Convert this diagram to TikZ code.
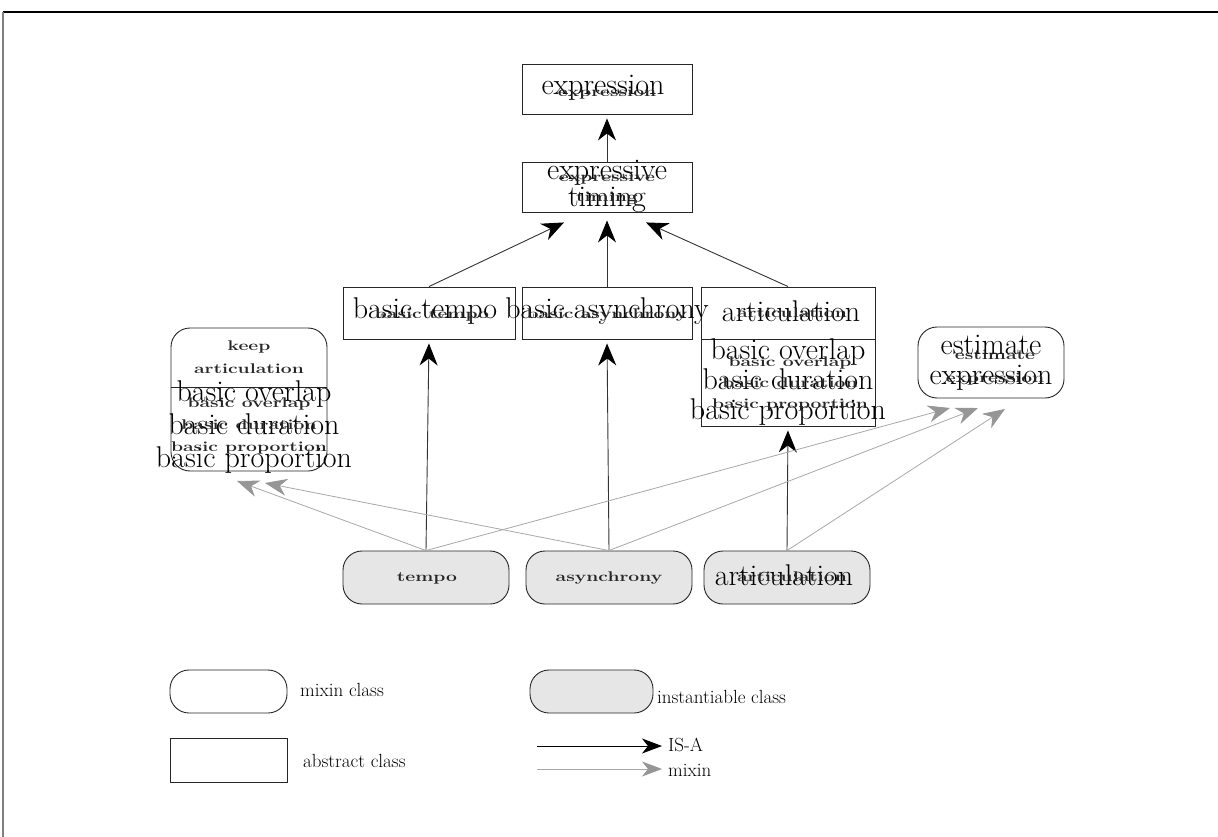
\documentclass[tikz,border=0pt]{standalone}
\usetikzlibrary{arrows.meta,calc}
\definecolor{instfill}{HTML}{E6E6E6}
\definecolor{mixgray}{HTML}{A8A8A8}
\definecolor{mixhead}{HTML}{969696}
% wide, low-resolution caption text set inside the boxes
\newcommand{\pixtxt}[1]{\scalebox{1.38}[1]{\begin{tabular}{@{}c@{}}#1\end{tabular}}}
\begin{document}
\begin{tikzpicture}[x=1pt,y=-1pt,
  frame/.style={line width=1.2pt},
  absbox/.style={draw=black!85, line width=0.9pt, inner sep=0pt},
  mixbox/.style={draw=black!85, line width=0.9pt, inner sep=0pt, rounded corners=19pt},
  instbox/.style={mixbox, fill=instfill},
  bigtxt/.style={inner sep=0pt, align=center, font=\fontsize{30}{30}\selectfont},
  smalltxt/.style={inner sep=0pt, text=black!85, font=\fontsize{14}{21}\selectfont\bfseries},
  legtxt/.style={inner sep=0pt, anchor=west, font=\fontsize{19}{20}\selectfont},
  isa/.style={draw=black!80, line width=0.9pt, -{Stealth[length=22pt,width=18pt,inset=7pt,color=black,fill=black]}},
  mixin/.style={draw=mixgray, line width=0.8pt, -{Stealth[length=22pt,width=17pt,inset=7pt,color=mixhead,fill=mixhead]}}
]
\useasboundingbox (0,0) rectangle (1218,837);
\fill[white] (0,0) rectangle (1218,837);

% page frame
\draw[frame, black] (3,12) -- (1218,12);
\draw[frame, black!50] (3,12) -- (3,837);

% ---- class boxes ----
\node[absbox, minimum width=170pt, minimum height=50pt] (expr) at (607,89) {};
\node[absbox, minimum width=170pt, minimum height=50pt] (timing) at (607,187) {};
\node[absbox, minimum width=172pt, minimum height=52pt] (btempo) at (429,313) {};
\node[absbox, minimum width=170pt, minimum height=52pt] (basync) at (607,313) {};
\node[absbox, minimum width=174pt, minimum height=52pt] (artic) at (788,313) {};
\node[absbox, minimum width=174pt, minimum height=87pt] (articlist) at (788,382.5) {};

\node[mixbox, minimum width=156pt, minimum height=143pt] (keep) at (249,399.5) {};
\draw[black!85, line width=0.9pt] (keep.west |- 0,387) -- (keep.east |- 0,387);
\node[mixbox, minimum width=146pt, minimum height=71pt] (estimate) at (991,362.5) {};

\node[instbox, minimum width=166pt, minimum height=53pt] (tempo) at (426,577.5) {};
\node[instbox, minimum width=166pt, minimum height=53pt] (async) at (609,577.5) {};
\node[instbox, minimum width=166pt, minimum height=53pt] (iartic) at (787,577.5) {};

% ---- large captions ----
\node[bigtxt] (exprL) at (603,88) {expression};
\node[bigtxt, font=\fontsize{30}{27}\selectfont] (timingL) at (607,186) {expressive\\timing};
\node[bigtxt] (btempoL) at (425,311) {basic tempo};
\node[bigtxt] (basyncL) at (607,311) {basic asynchrony};
\node[bigtxt] (articL) at (791,311) {articulation};
\node[bigtxt] (articlistL) at (788,382) {basic overlap\\basic duration\\basic proportion};
\node[bigtxt, font=\fontsize{30}{33}\selectfont] (keepL) at (254,427) {basic overlap\\basic duration\\basic proportion};
\node[bigtxt] (estimateL) at (991,363) {estimate\\expression};
\node[bigtxt] (iarticL) at (784,575) {articulation};

% ---- small captions ----
\node[smalltxt] (exprS) at (607,92) {\pixtxt{expression}};
\node[smalltxt, font=\fontsize{14}{20}\selectfont\bfseries] (timingS) at (607,188) {\pixtxt{expressive\\timing}};
\node[smalltxt] (btempoS) at (432,314) {\pixtxt{basic tempo}};
\node[smalltxt] (basyncS) at (607,314) {\pixtxt{basic asynchrony}};
\node[smalltxt] (articS) at (792,313) {\pixtxt{articulation}};
\node[smalltxt] (articlistS) at (790,383) {\pixtxt{basic overlap\\basic duration\\basic proportion}};
\node[smalltxt, font=\fontsize{14}{23}\selectfont\bfseries] (keepS) at (249,357) {\pixtxt{keep\\articulation}};
\node[smalltxt, font=\fontsize{14}{22}\selectfont\bfseries] (keepS2) at (249,425) {\pixtxt{basic overlap\\basic duration\\basic proportion}};
\node[smalltxt, font=\fontsize{14}{23}\selectfont\bfseries] (estimateS) at (995,366) {\pixtxt{estimate\\expression}};
\node[smalltxt] (tempoS) at (427,577) {\pixtxt{tempo}};
\node[smalltxt] (asyncS) at (609,577) {\pixtxt{asynchrony}};
\node[smalltxt] (iarticS) at (792,577) {\pixtxt{articulation}};

% ---- arrow end points ----
\coordinate (inT1) at ([xshift=-43pt,yshift=-10pt]timing.south);
\coordinate (inT2) at ([yshift=-8pt]timing.south);
\coordinate (inT3) at ([xshift=39pt,yshift=-10pt]timing.south);
\coordinate (inK1) at (237,481);
\coordinate (inK2) at (265,483);
\coordinate (inE1) at (950,408);
\coordinate (inE2) at (978,408);
\coordinate (inE3) at (1005,409);

% ---- IS-A links ----
\draw[isa, shorten >=4pt] (timing.north) -- (expr.south);
\draw[isa] (btempo.north) -- (inT1);
\draw[isa] (basync.north) -- (inT2);
\draw[isa] (artic.north) -- (inT3);
\draw[isa, shorten >=4pt] (tempo.north) -- (btempo.south);
\draw[isa, shorten >=4pt] (async.north) -- (basync.south);
\draw[isa, shorten >=4pt] (iartic.north) -- (articlist.south);

% ---- mixin links ----
\draw[mixin] (tempo.north) -- (inK1);
\draw[mixin] (async.north) -- (inK2);
\draw[mixin] (tempo.north) -- (inE1);
\draw[mixin] (async.north) -- (inE2);
\draw[mixin] (iartic.north) -- (inE3);

% ---- legend ----
\node[mixbox, minimum width=117pt, minimum height=43pt] (lgmixin) at (228.5,691.5) {};
\node[legtxt] (lgmixinT) at (300,690) {mixin class};
\node[absbox, minimum width=117pt, minimum height=44pt] (lgabs) at (228.5,760) {};
\node[legtxt] (lgabsT) at (303,761) {abstract\hspace{0.3em}class};
\node[instbox, minimum width=123pt, minimum height=43pt] (lginst) at (591.5,691.5) {};
\node[legtxt] (lginstT) at (657,697) {instantiable\hspace{0.3em}class};
\node[legtxt] (lgisaT) at (668,745) {IS-A};
\node[legtxt] (lgmixT) at (668,770) {mixin};
\coordinate (lgisa0) at (537,746);
\coordinate (lgmix0) at (537,769);
\draw[draw=black, line width=0.9pt, shorten >=6pt, -{Stealth[length=20pt,width=15pt,inset=6pt,color=black,fill=black]}] (lgisa0) -- (lgisa0 -| lgisaT.west);
\draw[draw=mixgray, line width=0.8pt, shorten >=6pt, -{Stealth[length=20pt,width=15pt,inset=6pt,color=mixhead,fill=mixhead]}] (lgmix0) -- (lgmix0 -| lgmixT.west);
\end{tikzpicture}
\end{document}
